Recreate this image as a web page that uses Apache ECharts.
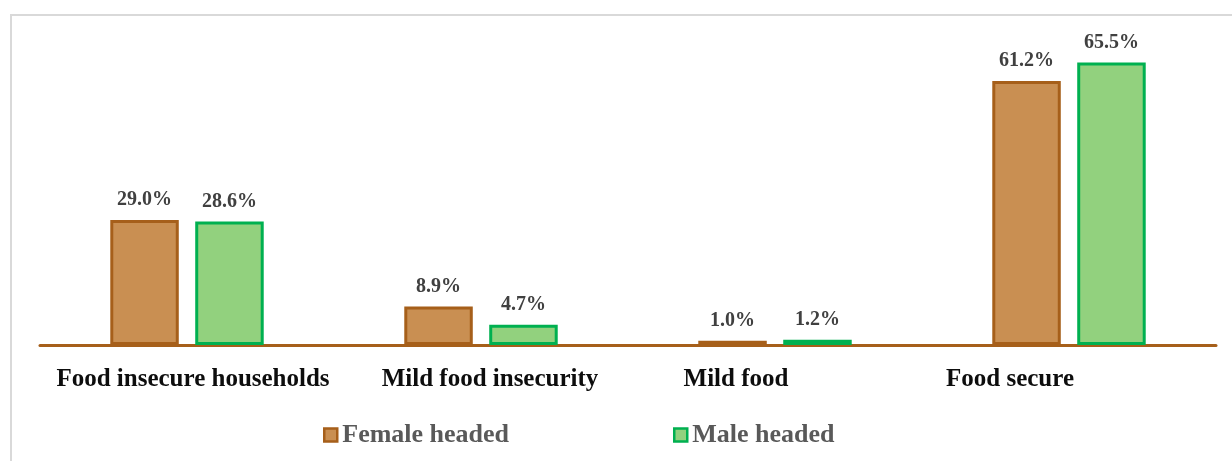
<!DOCTYPE html>
<html><head><meta charset="utf-8">
<script src="https://cdn.jsdelivr.net/npm/echarts@6/dist/echarts.min.js"></script>
<style>html,body{margin:0;padding:0;background:#fff}#c{width:1232px;height:461px}</style>
</head><body><div id="c"></div>
<script>
var categories = ['Food insecure households', 'Mild food insecurity', 'Mild food', 'Food secure'];
var femaleHeaded = [29.0, 8.9, 1.0, 61.2];
var maleHeaded = [28.6, 4.7, 1.2, 65.5];
var seriesNames = ['Female headed', 'Male headed'];

var chart = echarts.init(document.getElementById('c'));
var serif = '"Liberation Serif", "DejaVu Serif", serif';
var labelPads = [[0,0,0,12],[0,0,0,18],[0,78,0,0],[0,118,0,0]];
var rich = {};
labelPads.forEach(function(p,i){ rich['c'+i] = {padding:p, fontFamily:serif, fontWeight:'bold', fontSize:25, color:'#0d0d0d'}; });

function barLabel() {
  return {show:true, position:'top', distance:10, fontFamily:serif, fontWeight:'bold', fontSize:20, color:'#404040',
    formatter:function(p){ return p.value.toFixed(1) + '%'; }};
}
var legendText = {fontFamily:serif, fontWeight:'bold', fontSize:26, color:'#595959'};
chart.setOption({
  animation:false,
  graphic:[{type:'rect', shape:{x:11, y:15, width:1300, height:500}, style:{fill:'none', stroke:'#D9D9D9', lineWidth:2}}],
  grid:{left:40, right:16, top:43, bottom:116},
  legend:[
    {data:[seriesNames[0]], left:318, top:417, icon:'rect', itemWidth:13, itemHeight:13, itemGap:8, textStyle:legendText,
     itemStyle:{borderWidth:2.5}},
    {data:[seriesNames[1]], left:668, top:417, icon:'rect', itemWidth:13, itemHeight:13, itemGap:8, textStyle:legendText,
     itemStyle:{borderWidth:2.5}}
  ],
  xAxis:{type:'category', data:categories,
    axisLine:{lineStyle:{color:'#A65F1A', width:3}}, axisTick:{show:false},
    axisLabel:{margin:22, interval:0, formatter:function(v, i){ return '{c'+i+'|'+v+'}'; }, rich:rich}},
  yAxis:{type:'value', min:0, max:70, show:false, splitLine:{show:false}},
  series:[
    {name:seriesNames[0], type:'bar', data:femaleHeaded, barWidth:'23.3%', barGap:'24%',
     itemStyle:{color:'#C98F52', borderColor:'#A65F1A', borderWidth:3}, label:barLabel()},
    {name:seriesNames[1], type:'bar', data:maleHeaded, barWidth:'23.3%',
     itemStyle:{color:'#92D17E', borderColor:'#00B050', borderWidth:3}, label:barLabel()}
  ]
});
</script></body></html>
